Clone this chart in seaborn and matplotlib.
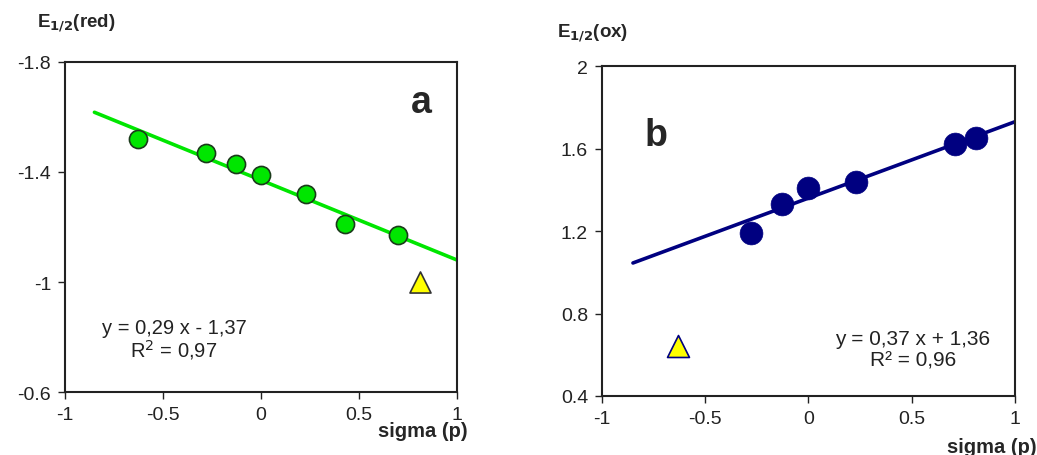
import matplotlib
matplotlib.use("Agg")
import matplotlib.pyplot as plt
import seaborn as sns

# panel a : reduction potentials vs sigma(p)
red_sigma = [-0.63, -0.28, -0.13, 0.0, 0.23, 0.43, 0.70]
red_e = [-1.52, -1.47, -1.43, -1.39, -1.32, -1.21, -1.17]
red_out_sigma = [0.81]
red_out_e = [-1.00]
red_fit_x = [-0.85, 1.0]
red_fit_y = [-1.617, -1.08]

# panel b : oxidation potentials vs sigma(p)
ox_sigma = [-0.28, -0.13, 0.0, 0.23, 0.71, 0.81]
ox_e = [1.19, 1.33, 1.41, 1.44, 1.62, 1.65]
ox_out_sigma = [-0.63]
ox_out_e = [0.64]
ox_fit_x = [-0.85, 1.0]
ox_fit_y = [1.045, 1.73]

x_ticks = [-1, -0.5, 0, 0.5, 1]
x_ticklabels = ["-1", "-0.5", "0", "0.5", "1"]
red_ticks = [-1.8, -1.4, -1.0, -0.6]
red_ticklabels = ["-1.8", "-1.4", "-1", "-0.6"]
ox_ticks = [0.4, 0.8, 1.2, 1.6, 2.0]
ox_ticklabels = ["0.4", "0.8", "1.2", "1.6", "2"]

sns.set_style("white")
plt.rcParams['font.family'] = ['Liberation Sans', 'DejaVu Sans']

fig = plt.figure(figsize=(10.37, 4.56), dpi=100)
ax1 = fig.add_axes([0.0627, 0.138, 0.378, 0.724])
ax2 = fig.add_axes([0.5805, 0.1294, 0.3983, 0.7236])

green = "#00e600"
navy = "#000080"

# ---- panel a
sns.lineplot(x=red_fit_x, y=red_fit_y, ax=ax1, color=green, lw=2.6, zorder=2)
sns.scatterplot(x=red_sigma, y=red_e, ax=ax1, color=green, s=170,
                edgecolor="#1a3a1a", linewidth=1.2, zorder=3)
sns.scatterplot(x=red_out_sigma, y=red_out_e, ax=ax1, marker="^", color="#ffff00",
                s=230, edgecolor="#333333", linewidth=1.2, zorder=3)
ax1.set_xlim(-1, 1)
ax1.set_ylim(-0.6, -1.8)
ax1.set_yticks(red_ticks)
ax1.set_yticklabels(red_ticklabels)
ax1.text(0.82, -1.655, "a", fontsize=27, fontweight="bold", ha="center", va="center")
ax1.text(-0.444, -0.836, "y = 0,29 x - 1,37", fontsize=14.5, ha="center", va="center",
         color="#222222")
ax1.text(-0.444, -0.756, "R$^2$ = 0,97", fontsize=14.5, ha="center", va="center",
         color="#222222")

# ---- panel b
sns.lineplot(x=ox_fit_x, y=ox_fit_y, ax=ax2, color=navy, lw=2.6, zorder=2)
sns.scatterplot(x=ox_sigma, y=ox_e, ax=ax2, color=navy, s=270,
                edgecolor=navy, linewidth=0.5, zorder=3)
sns.scatterplot(x=ox_out_sigma, y=ox_out_e, ax=ax2, marker="^", color="#ffff00",
                s=250, edgecolor=navy, linewidth=1.2, zorder=3)
ax2.set_xlim(-1, 1)
ax2.set_ylim(0.4, 2.0)
ax2.set_yticks(ox_ticks)
ax2.set_yticklabels(ox_ticklabels)
ax2.text(-0.74, 1.665, "b", fontsize=27, fontweight="bold", ha="center", va="center")
ax2.text(0.506, 0.68, "y = 0,37 x + 1,36", fontsize=15, ha="center", va="center",
         color="#222222")
ax2.text(0.506, 0.575, "R² = 0,96", fontsize=15, ha="center", va="center",
         color="#222222")

for ax in (ax1, ax2):
    ax.set_xticks(x_ticks)
    ax.set_xticklabels(x_ticklabels)
    ax.tick_params(axis="both", direction="out", length=5, width=1, labelsize=14,
                   colors="#222222", bottom=True, left=True, pad=5)
    for sp in ax.spines.values():
        sp.set_color("#222222")
        sp.set_linewidth(1.5)
    ax.set_xlabel("")
    ax.set_ylabel("")

fig.text(0.036, 0.95, "E$_{\\mathbf{1/2}}$(red)", fontsize=13.5, fontweight="bold",
         ha="left", va="center")
fig.text(0.537, 0.928, "E$_{\\mathbf{1/2}}$(ox)", fontsize=13.5, fontweight="bold",
         ha="left", va="center")
fig.text(0.451, 0.053, "sigma (p)", fontsize=14.5, fontweight="bold", ha="right", va="center")
fig.text(1.0, 0.018, "sigma (p)", fontsize=14.5, fontweight="bold", ha="right", va="center")

fig.savefig("out.png", dpi=100, facecolor="white")
